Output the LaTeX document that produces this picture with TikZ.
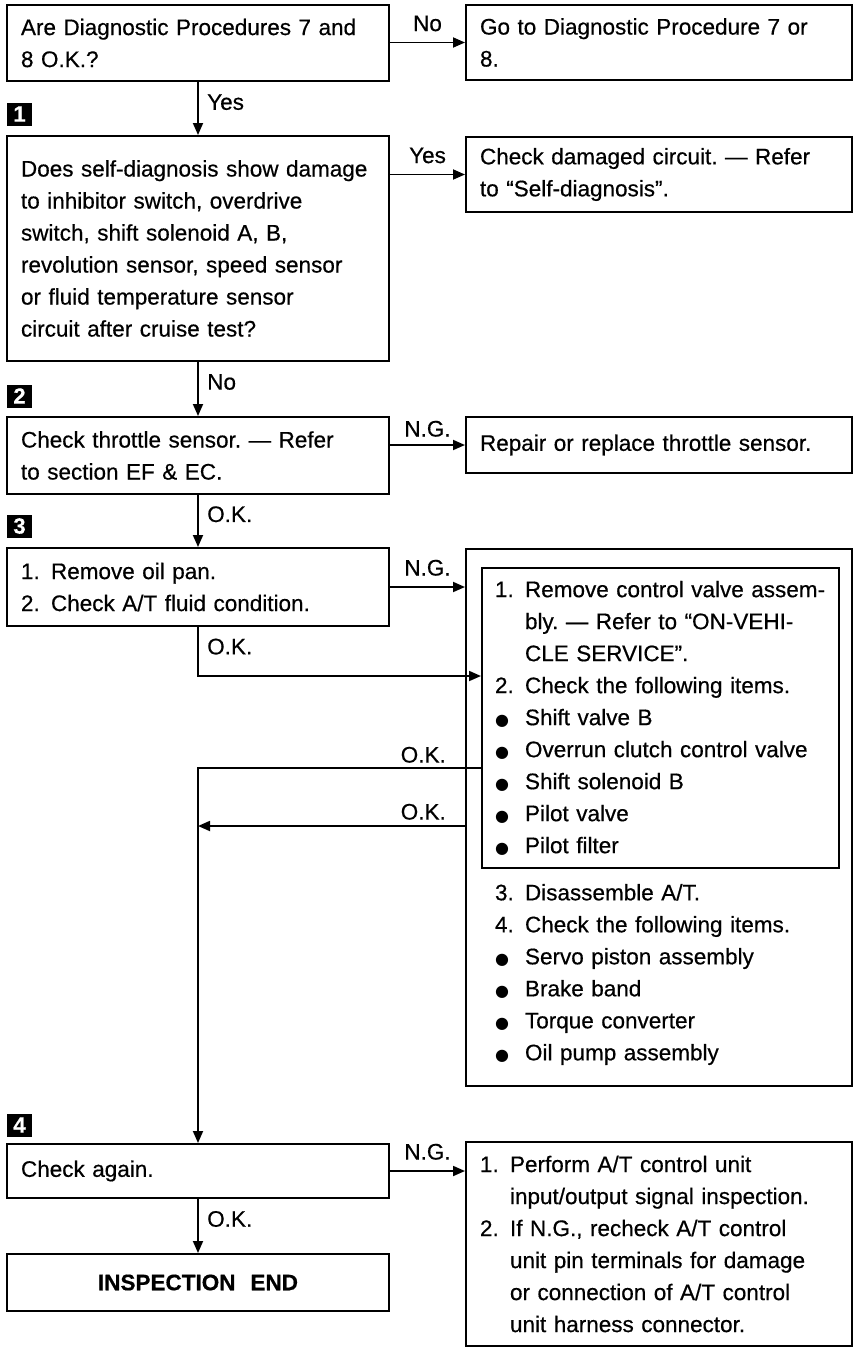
\documentclass[tikz,border=0pt]{standalone}
\usepackage{fontspec}
\setmainfont{Liberation Sans}[FakeBold=0.5]
\newfontfamily\dotfont{DejaVu Sans}
\usetikzlibrary{arrows.meta}
\newcommand{\lit}[2]{\makebox[30pt][l]{#1}#2}
\newcommand{\dt}{{\dotfont\fontsize{16}{16}\selectfont ●}}

\begin{document}
\begin{tikzpicture}[x=1pt,y=-1pt,
  box/.style={draw,line width=2pt,anchor=north west,align=left,inner xsep=14pt,inner ysep=6pt,font=\fontsize{22.5}{32}\selectfont\frenchspacing},
  lbox/.style={box,text width=354pt},
  rbox/.style={box,text width=358pt},
  ans/.style={font=\fontsize{22.5}{26}\selectfont},
  arr/.style={line width=1.8pt,-{Triangle[length=12pt,width=10pt]}},
  tag/.style={fill=black,text=white,inner sep=0pt,minimum width=25pt,minimum height=23pt,font=\fontsize{22}{22}\selectfont\bfseries}]
	\useasboundingbox (0,0) rectangle (855,1347);
	\node[lbox,minimum height=76pt] (ask) at (6,4) {Are Diagnostic Procedures 7 and\\8 O.K.?};
	\node[rbox,minimum height=75pt] (goto) at (465,4) {Go to Diagnostic Procedure 7 or\\8.};
	\node[tag] (m1) at (19.5,114) {1};
	\node[lbox,minimum height=225pt] (self) at (6,135) {Does self-diagnosis show damage\\to inhibitor switch, overdrive\\switch, shift solenoid A, B,\\revolution sensor, speed sensor\\or fluid temperature sensor\\circuit after cruise test?};
	\node[rbox,minimum height=75pt] (circ) at (465,136) {Check damaged circuit. --- Refer\\to ``Self-diagnosis''.};
	\node[tag] (m2) at (19.5,396) {2};
	\node[lbox,minimum height=77pt] (thr) at (6,416) {Check throttle sensor. --- Refer\\to section EF \& EC.};
	\node[rbox,minimum height=56pt] (rep) at (465,416) {Repair or replace throttle sensor.};
	\node[tag] (m3) at (19.5,526) {3};
	\node[lbox,minimum height=78pt] (pan) at (6,547) {\lit{1.}{Remove oil pan.}\\\lit{2.}{Check A/T fluid condition.}};
	\node[draw,line width=2pt,anchor=north west,minimum width=386pt,minimum height=537pt] (cv) at (465,548) {};
	\node[box,inner xsep=13pt,text width=331pt,minimum height=300pt] (valve) at (481,567) {\lit{1.}{Remove control valve assem-}\\\lit{}{bly. --- Refer to ``ON-VEHI-}\\\lit{}{CLE SERVICE''.}\\\lit{2.}{Check the following items.}\\\lit{\dt}{Shift valve B}\\\lit{\dt}{Overrun clutch control valve}\\\lit{\dt}{Shift solenoid B}\\\lit{\dt}{Pilot valve}\\\lit{\dt}{Pilot filter}};
	\node[box,draw=none,inner xsep=13pt,text width=331pt] (at) at (481,877) {\lit{3.}{Disassemble A/T.}\\\lit{4.}{Check the following items.}\\\lit{\dt}{Servo piston assembly}\\\lit{\dt}{Brake band}\\\lit{\dt}{Torque converter}\\\lit{\dt}{Oil pump assembly}};
	\node[tag] (m4) at (19.5,1125) {4};
	\node[lbox,minimum height=54pt] (again) at (6,1143) {Check again.};
	\node[rbox,minimum height=204pt] (unit) at (465,1141) {\lit{1.}{Perform A/T control unit}\\\lit{}{input/output signal inspection.}\\\lit{2.}{If N.G., recheck A/T control}\\\lit{}{unit pin terminals for damage}\\\lit{}{or connection of A/T control}\\\lit{}{unit harness connector.}};
	\node[lbox,minimum height=57pt,align=center,font=\fontsize{22.5}{32}\selectfont\bfseries] (fin) at (6,1253) {INSPECTION\ \ END};
	\coordinate (in1) at ([yshift=-109pt]valve.north west);
	\coordinate (out1) at ([yshift=-201pt]valve.north west);
	\coordinate (out2) at ([yshift=-278pt]cv.north west);
	\draw[arr] (ask.east |- goto.west) -- (goto.west) node[ans,midway,above=7pt] {No};
	\draw[arr] (ask.south) -- (self.north) node[ans,pos=0.38,right=5pt] {Yes};
	\draw[arr] (self.east |- circ.west) -- (circ.west) node[ans,midway,above=7pt] {Yes};
	\draw[arr] (self.south) -- (thr.north) node[ans,pos=0.37,right=5pt] {No};
	\draw[arr] (thr.east |- rep.west) -- (rep.west) node[ans,midway,above=4pt] {N.G.};
	\draw[arr] (thr.south) -- (pan.north) node[ans,pos=0.37,right=5pt] {O.K.};
	\draw[arr] (pan.east) -- (pan.east -| cv.west) node[ans,midway,above=7pt] {N.G.};
	\draw[arr] (pan.south) |- (in1) node[ans,pos=0.2,right=5pt] {O.K.};
	\draw[arr] (out1) -| (again.north) node[ans,pos=0,anchor=south east,xshift=-31pt,yshift=1pt] {O.K.};
	\draw[arr] (out2) -- (out2 -| again.north) node[ans,pos=0,anchor=south east,xshift=-15pt,yshift=2pt] {O.K.};
	\draw[arr] (again.east) -- (again.east -| unit.west) node[ans,midway,above=7pt] {N.G.};
	\draw[arr] (again.south) -- (fin.north) node[ans,pos=0.37,right=5pt] {O.K.};
\end{tikzpicture}
\end{document}
